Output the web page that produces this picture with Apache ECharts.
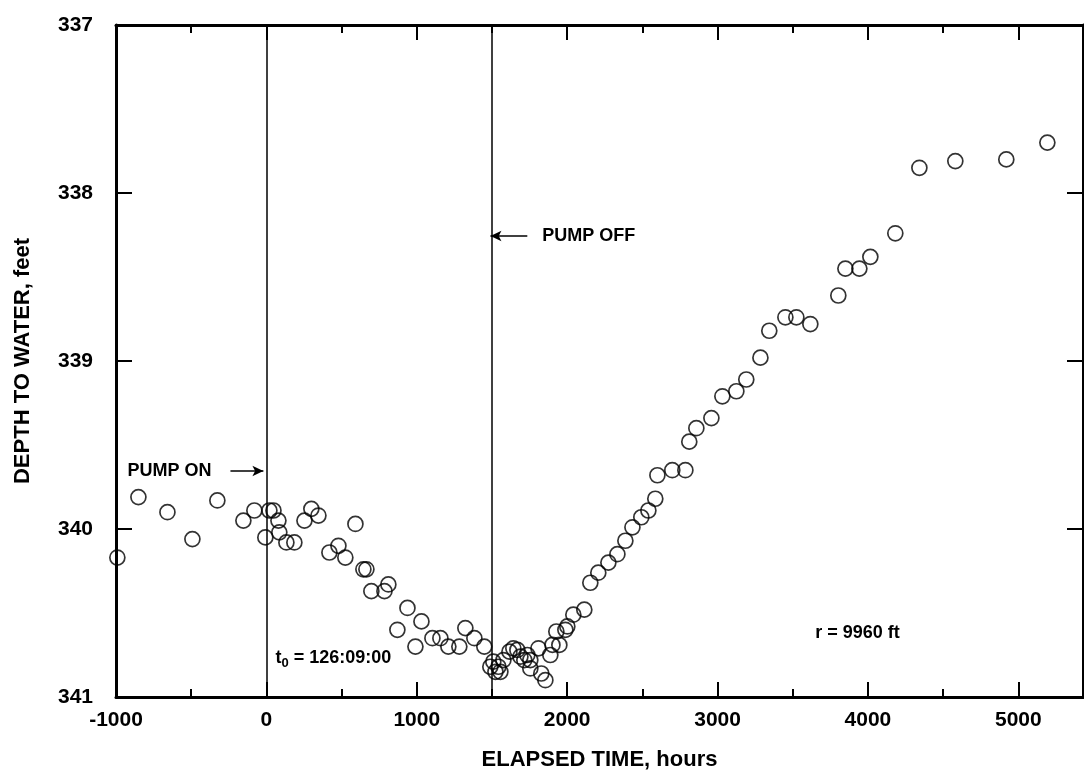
<!DOCTYPE html>
<html>
<head>
<meta charset="utf-8">
<title>Depth to water</title>
<script src="https://cdn.jsdelivr.net/npm/echarts@6/dist/echarts.min.js"></script>
<style>
  html, body { margin: 0; padding: 0; background: #fff; }
  #chart { width: 1084px; height: 773px; }
</style>
</head>
<body>
<div id="chart"></div>
<script>
const elapsedHours = [
  -991, -851, -658, -492, -326, -153, -80, -7, 20, 47, 80, 86, 133, 186, 253, 299,
  346, 419, 479, 525, 592, 645, 665, 698, 785, 811, 938, 871, 1031, 991, 1104, 1157,
  1210, 1283, 1323, 1383, 1449, 1489, 1509, 1523, 1543, 1556, 1576, 1616, 1642, 1669,
  1689, 1715, 1735, 1755, 1755, 1809, 1828, 1855, 1888, 1902, 1948, 1928, 1988, 2001,
  2041, 2114, 2154, 2207, 2274, 2334, 2387, 2434, 2493, 2540, 2586, 2600, 2699, 2786,
  2812, 2859, 2959, 3032, 3125, 3191, 3285, 3344, 3451, 3524, 3617, 3803, 3850, 3943,
  4016, 4182, 4342, 4581, 4920, 5193
];
const depthToWater = [
  340.17, 339.81, 339.90, 340.06, 339.83, 339.95, 339.89, 340.05, 339.89, 339.89, 339.95, 340.02, 340.08, 340.08, 339.95, 339.88,
  339.92, 340.14, 340.10, 340.17, 339.97, 340.24, 340.24, 340.37, 340.37, 340.33, 340.47, 340.60, 340.55, 340.70, 340.65, 340.65,
  340.70, 340.70, 340.59, 340.65, 340.70, 340.82, 340.79, 340.85, 340.82, 340.85, 340.78, 340.73, 340.71, 340.72,
  340.76, 340.78, 340.75, 340.78, 340.83, 340.71, 340.86, 340.90, 340.75, 340.69, 340.69, 340.61, 340.60, 340.58,
  340.51, 340.48, 340.32, 340.26, 340.20, 340.15, 340.07, 339.99, 339.93, 339.89, 339.82, 339.68, 339.65, 339.65,
  339.48, 339.40, 339.34, 339.21, 339.18, 339.11, 338.98, 338.82, 338.74, 338.74, 338.78, 338.61, 338.45, 338.45,
  338.38, 338.24, 337.85, 337.81, 337.80, 337.70
];

const xRange = [-1000, 5430];
const yRange = [337, 341];
const pumpOnHour = 0;
const pumpOffHour = 1500;

const font = '"Liberation Sans", Arial, Helvetica, sans-serif';
const black = "#000";

const chart = echarts.init(document.getElementById("chart"));

const points = elapsedHours.map((h, i) => [h, depthToWater[i]]);

function xAxisDef(pos) {
  const bottom = pos === "bottom";
  return {
    type: "value",
    position: pos,
    min: xRange[0],
    max: xRange[1],
    interval: 1000,
    axisLine: { onZero: false, lineStyle: { color: black, width: 3 } },
    axisTick: { inside: true, length: 15, lineStyle: { color: black, width: 2 } },
    minorTick: { show: true, splitNumber: 2, length: 8, lineStyle: { color: black, width: 2 } },
    splitLine: { show: false },
    axisLabel: {
      show: bottom,
      color: black,
      fontFamily: font,
      fontWeight: "bold",
      fontSize: 21,
      margin: 13,
      formatter: (v) => (v % 1000 === 0 ? String(v) : ""),
    },
    name: bottom ? "ELAPSED TIME, hours" : "",
    nameLocation: "middle",
    nameGap: 52,
    nameTextStyle: { color: black, fontFamily: font, fontWeight: "bold", fontSize: 22 },
  };
}

function yAxisDef(pos) {
  const left = pos === "left";
  return {
    type: "value",
    position: pos,
    inverse: true,
    min: yRange[0],
    max: yRange[1],
    interval: 1,
    axisLine: { onZero: false, lineStyle: { color: black, width: 3 } },
    axisTick: { inside: true, length: 16, lineStyle: { color: black, width: 2 } },
    splitLine: { show: false },
    axisLabel: {
      show: left,
      color: black,
      fontFamily: font,
      fontWeight: "bold",
      fontSize: 21,
      margin: 23,
    },
    name: left ? "DEPTH TO WATER, feet" : "",
    nameLocation: "middle",
    nameGap: 82,
    nameTextStyle: { color: black, fontFamily: font, fontWeight: "bold", fontSize: 22 },
  };
}

const option = {
  animation: false,
  backgroundColor: "#fff",
  grid: { left: 116, right: 1, top: 25, bottom: 76, outerBoundsMode: "none" },
  xAxis: [xAxisDef("bottom"), xAxisDef("top")],
  yAxis: [yAxisDef("left"), yAxisDef("right")],
  series: [
    {
      type: "scatter",
      xAxisIndex: 0,
      yAxisIndex: 0,
      symbol: "circle",
      symbolSize: 15,
      itemStyle: { color: "rgba(0,0,0,0)", borderColor: black, borderWidth: 1.7 },
      data: points,
      markLine: {
        silent: true,
        symbol: "none",
        label: { show: false },
        lineStyle: { color: black, width: 1.5, type: "solid" },
        data: [
          { xAxis: pumpOnHour },
          { xAxis: pumpOffHour },
          [
            { coord: [-239, 339.655], symbol: "none" },
            { coord: [-20, 339.655], symbol: "arrow", symbolSize: [8, 11] },
          ],
          [
            { coord: [1735, 338.256], symbol: "none" },
            { coord: [1490, 338.256], symbol: "arrow", symbolSize: [8, 11] },
          ],
        ],
      },
    },
  ],
};

chart.setOption(option);

// Text notes anchored in data coordinates
const notes = [
  { at: [-924, 339.655], text: "PUMP ON" },
  { at: [1835, 338.256], text: "PUMP OFF" },
  { at: [60, 340.77], text: "{t|t}{s|0}{t| = 126:09:00}" },
  { at: [3650, 340.62], text: "r = 9960 ft" },
];

chart.setOption({
  graphic: notes.map((n) => {
    const p = chart.convertToPixel({ xAxisIndex: 0, yAxisIndex: 0 }, n.at);
    return {
      type: "text",
      x: p[0],
      y: p[1],
      silent: true,
      style: {
        text: n.text,
        fill: black,
        font: "bold 18px " + font,
        verticalAlign: "middle",
        rich: {
          t: { font: "bold 18px " + font, fill: black },
          s: { font: "bold 13px " + font, fill: black, padding: [11, 0, 0, 0] },
        },
      },
    };
  }),
});
</script>
</body>
</html>
